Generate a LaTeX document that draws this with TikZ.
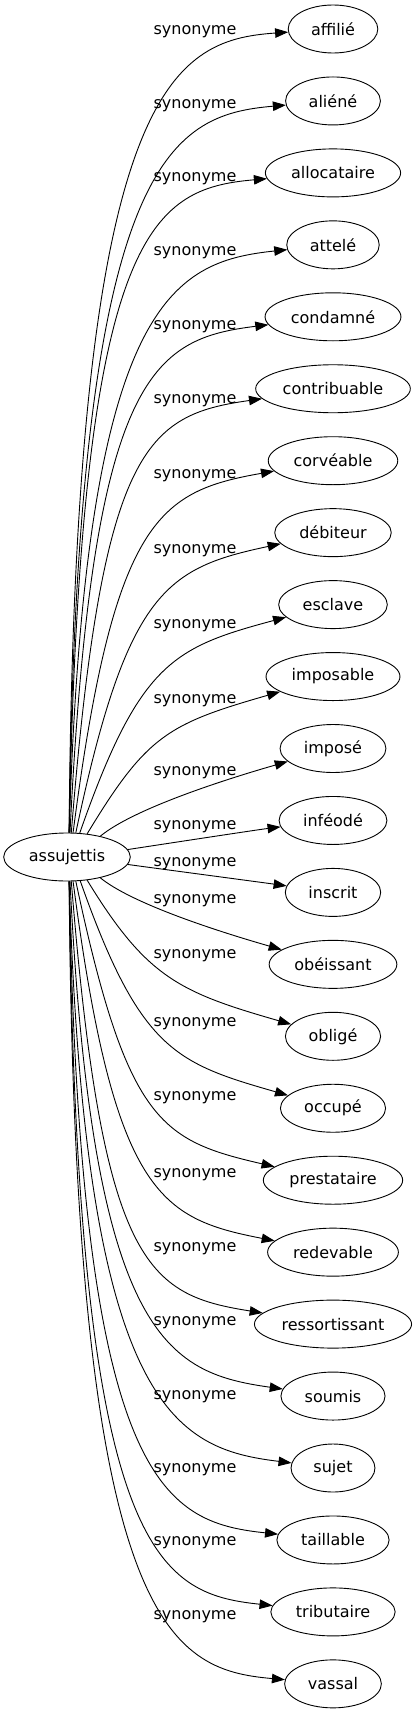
\documentclass[tikz,border=0pt]{standalone}
\usepackage{fontspec}
\setmainfont{DejaVu Sans}
\usetikzlibrary{arrows.meta,shapes.geometric}

\begin{document}
\begin{tikzpicture}[x=1pt,y=1pt]
    \tikzset{word/.style = {shape = ellipse,draw = black,line width = 0.9pt,inner sep = 0pt,minimum height = 48pt}, lab/.style = {inner sep = 0pt}, edge/.style = {line width = 0.9pt,-{Triangle[length=13pt,width=9.5pt]}}}
    \fontsize{16}{19}\selectfont
    \useasboundingbox (0,0) rectangle (417,-1715);
    \def\sy{857}
    \pgfmathsetmacro\mw{1.15*width("assujettis")+39}
    \node[word,minimum width=\mw pt] (src) at (67,-\sy) {assujettis};
    \foreach \w/\ly [count=\i from 0] in {affilié/32,aliéné/106,allocataire/179,attelé/253,condamné/327,contribuable/401,corvéable/476,débiteur/551,esclave/626,imposable/701,imposé/773,inféodé/827,inscrit/864,obéissant/901,obligé/956,occupé/1024,prestataire/1098,redevable/1175,ressortissant/1249,soumis/1323,sujet/1397,taillable/1470,tributaire/1543,vassal/1617} {
        \pgfmathsetmacro\ty{29+71.95*\i}
        \pgfmathsetmacro\mw{1.15*width("\w")+39}
        \pgfmathsetmacro\s{\ty<\sy ? 1 : -1}
        \pgfmathsetmacro\D{abs(\ty-\sy)}
        \pgfmathtruncatemacro\th{\s*min(85,90-85*exp(-(\D-30)/200))}
        \pgfmathsetmacro\dl{\s*(90-85*exp(-(\D-30)/150))}
        \pgfmathsetmacro\la{max(15,(\D-82)/sin(abs(\dl)))}
        \pgfmathsetmacro\be{min(16,4000/\D,\D/5)}
        \pgfmathsetmacro\lb{min(117,0.65*\D)}
        \pgfmathtruncatemacro\ea{180+\s*\be}
        \node[word,minimum width=\mw pt] (t\i) at (333,-\ty) {\w};
        \node[lab] (l\i) at (195,-\ly) {synonyme};
        \draw[edge] (src.\th) .. controls +(\dl:\la pt) and +(\ea:\lb pt) .. (t\i.\ea);
    }
\end{tikzpicture}
\end{document}
